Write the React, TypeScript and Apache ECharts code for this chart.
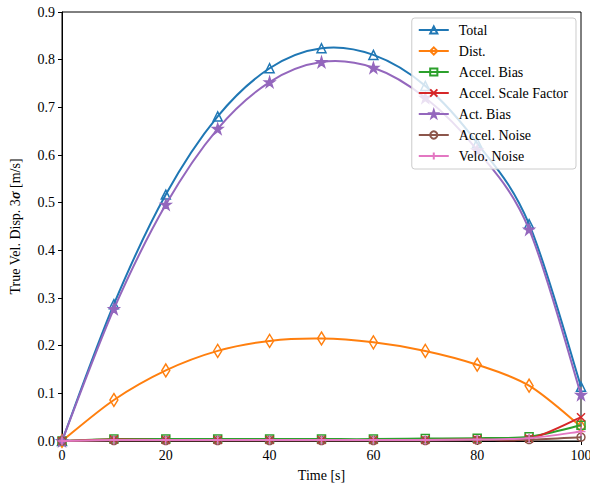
import React, { useEffect, useRef } from "react";
import * as echarts from "echarts";

const times = [0, 10, 20, 30, 40, 50, 60, 70, 80, 90, 100];
const seriesNames = ["Total", "Dist.", "Accel. Bias", "Accel. Scale Factor", "Act. Bias", "Accel. Noise", "Velo. Noise"];
const total = [0, 0.287, 0.517, 0.681, 0.782, 0.824, 0.81, 0.745, 0.625, 0.455, 0.114];
const dist = [0, 0.086, 0.148, 0.189, 0.21, 0.215, 0.207, 0.189, 0.16, 0.116, 0.03];
const accelBias = [0, 0.004, 0.004, 0.004, 0.004, 0.004, 0.004, 0.005, 0.006, 0.009, 0.033];
const accelScale = [0, 0.003, 0.002, 0.002, 0.002, 0.002, 0.002, 0.002, 0.003, 0.005, 0.05];
const actBias = [0, 0.277, 0.496, 0.655, 0.753, 0.795, 0.783, 0.72, 0.61, 0.444, 0.097];
const accelNoise = [0, 0.001, 0.001, 0.001, 0.001, 0.001, 0.001, 0.001, 0.002, 0.003, 0.008];
const veloNoise = [0, 0.002, 0.002, 0.002, 0.002, 0.002, 0.002, 0.002, 0.003, 0.006, 0.02];
const allValues = [total, dist, accelBias, accelScale, actBias, accelNoise, veloNoise];
const colors = ["#1f77b4", "#ff7f0e", "#2ca02c", "#d62728", "#9467bd", "#8c564b", "#e377c2"];

const STAR = "path://M50,0L61.2,34.5L97.6,34.5L68.2,55.9L79.4,90.5L50,69.1L20.6,90.5L31.8,55.9L2.4,34.5L38.8,34.5Z";
const XMARK = "path://M0,0L10,10M10,0L0,10";
const PLUS = "path://M5,0L5,10M0,5L10,5";
const THIN_DIAMOND = "path://M5,0L9,8L5,16L1,8Z";
const symbols = ["triangle", THIN_DIAMOND, "rect", XMARK, STAR, "circle", PLUS];
const symbolSizes: any[] = [9, [8, 13], 8, 8, 10, 8, 9];
const filled = [false, false, false, false, true, false, false];

const FONT = "Liberation Serif";

function smoothPath(pts: number[][]): string {
  const n = pts.length;
  let d = `M${pts[0][0]},${pts[0][1]}`;
  for (let i = 0; i < n - 1; i++) {
    const p0 = pts[Math.max(i - 1, 0)];
    const p1 = pts[i];
    const p2 = pts[i + 1];
    const p3 = pts[Math.min(i + 2, n - 1)];
    const c1x = p1[0] + (p2[0] - p0[0]) / 6;
    const c1y = p1[1] + (p2[1] - p0[1]) / 6;
    const c2x = p2[0] - (p3[0] - p1[0]) / 6;
    const c2y = p2[1] - (p3[1] - p1[1]) / 6;
    d += `C${c1x},${c1y},${c2x},${c2y},${p2[0]},${p2[1]}`;
  }
  return d;
}

export default function App() {
  const ref = useRef<HTMLDivElement>(null);
  useEffect(() => {
    if (!ref.current) return;
    const chart = echarts.init(ref.current, null, { renderer: "svg" });
    const series: any[] = [];
    seriesNames.forEach((name, i) => {
      series.push({
        name: "curve-" + name,
        type: "custom",
        data: [[0, 0]],
        silent: true,
        z: 2 + i * 2,
        renderItem: (params: any, api: any) => {
          const pts = times.map((t, j) => api.coord([t, allValues[i][j]]));
          return {
            type: "path",
            shape: { pathData: smoothPath(pts) },
            style: { fill: "none", stroke: colors[i], lineWidth: 2 },
          };
        },
      });
      series.push({
        name,
        type: "line",
        data: times.map((t, j) => [t, allValues[i][j]]),
        symbol: symbols[i],
        symbolSize: symbolSizes[i],
        showAllSymbol: true,
        clip: true,
        lineStyle: { color: colors[i], width: 0 },
        itemStyle: {
          color: filled[i] ? colors[i] : "rgba(255,255,255,0)",
          borderColor: colors[i],
          borderWidth: 1.5,
        },
        z: 3 + i * 2,
      });
    });
    chart.setOption({
      animation: false,
      backgroundColor: "#fff",
      textStyle: { fontFamily: FONT },
      grid: {
        left: 62, right: 9, top: 12, bottom: 46,
        outerBoundsMode: "none",
        containLabel: false,
        show: true, borderColor: "#000", borderWidth: 1, backgroundColor: "transparent",
      },
      legend: {
        orient: "vertical",
        right: 14,
        top: 18,
        data: seriesNames,
        itemWidth: 30,
        itemHeight: 9,
        itemGap: 7,
        padding: [5, 8, 6, 6],
        backgroundColor: "rgba(255,255,255,0.8)",
        borderColor: "#cccccc",
        borderWidth: 1,
        borderRadius: 3,
        lineStyle: { width: 2 },
        textStyle: { fontFamily: FONT, fontSize: 14, color: "#000", padding: [0, 0, 0, 5] },
        z: 20,
      },
      xAxis: {
        type: "value",
        min: 0,
        max: 100,
        interval: 20,
        name: "Time [s]",
        nameLocation: "middle",
        nameGap: 27,
        nameTextStyle: { fontFamily: FONT, fontSize: 14, color: "#000" },
        axisLine: { onZero: false, lineStyle: { color: "#000", width: 1 } },
        axisTick: { show: true, length: 4, lineStyle: { color: "#000" } },
        axisLabel: { fontFamily: FONT, fontSize: 14, color: "#000", margin: 7 },
        splitLine: { show: false },
      },
      yAxis: {
        type: "value",
        min: 0,
        max: 0.9,
        interval: 0.1,
        name: "True Vel. Disp. 3{s|σ} [m/s]",
        nameLocation: "middle",
        nameGap: 40,
        nameRotate: 90,
        nameTextStyle: {
          fontFamily: FONT,
          fontSize: 14,
          color: "#000",
          rich: { s: { fontFamily: FONT, fontSize: 14, fontStyle: "italic", fontWeight: "bold", color: "#000" } },
        },
        axisLine: { onZero: false, lineStyle: { color: "#000", width: 1 } },
        axisTick: { show: true, length: 4, lineStyle: { color: "#000" } },
        axisLabel: { fontFamily: FONT, fontSize: 14, color: "#000", margin: 7, formatter: (v: number) => v.toFixed(1) },
        splitLine: { show: false },
      },
      series,
    });
    return () => chart.dispose();
  }, []);
  return <div ref={ref} style={{ position: "absolute", left: 0, top: 0, width: 590, height: 487 }} />;
}
